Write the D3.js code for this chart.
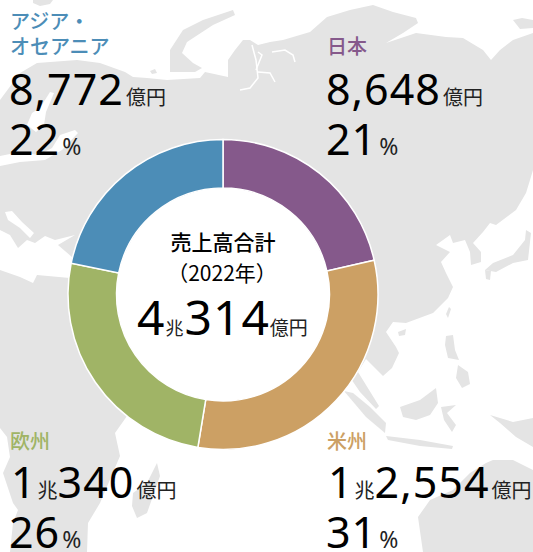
<!DOCTYPE html>
<html>
<head>
<meta charset="utf-8">
<script src="https://cdn.jsdelivr.net/npm/d3@7"></script>
<style>
    html, body { margin: 0; padding: 0; background: #fff; overflow: hidden; }
    svg { display: block; }
    text { font-family: "Noto Sans", "Noto Sans CJK JP", sans-serif; fill: #000; }
    .cjk { font-family: "Noto Sans CJK JP", sans-serif; }
    .name { font-family: "Noto Sans CJK JP", sans-serif; font-size: 20px; font-weight: 500; }
    .big { font-size: 43px; letter-spacing: 1px; }
    .unit { font-family: "Noto Sans CJK JP", sans-serif; font-size: 20px; fill: #222; }
    .pct { font-size: 23px; fill: #222; }
</style>
</head>
<body>
<div id="chart"></div>
<script>
    // values in 億円, clockwise from 12 o'clock
    var regions = ["日本", "米州", "欧州", "アジア・オセアニア"];
    var sales = [8648, 12554, 10340, 8772];
    var colors = ["#85598b", "#cca064", "#a0b466", "#4c8db7"];

    // background map outlines, in picture pixels
    var landMain = [[0,100],[20,73],[37,63],[77,60],[100,63],[125,72],[133,77],[147,78],[167,80],[200,78],[205,72],[228,77],
        [228,60],[235,50],[243,40],[250,40],[258,45],[270,42],[283,40],[310,32],[327,17],[350,10],[373,5],[393,12],[416,18],
        [418,23],[403,33],[386,43],[416,33],[446,37],[463,38],[483,50],[491,60],[500,50],[513,40],[533,33],[533,170],[530,180],
        [526,193],[516,210],[496,225],[490,223],[483,232],[473,243],[481,252],[481,262],[471,265],[470,252],[465,240],[453,243],
        [450,235],[436,245],[450,252],[441,262],[446,273],[453,287],[448,298],[433,313],[406,323],[393,322],[386,332],[396,347],
        [399,353],[392,368],[383,376],[366,359],[358,372],[366,385],[379,406],[376,409],[360,392],[345,370],[300,340],[200,400],
        [127,416],[115,433],[120,456],[100,503],[88,523],[87,552],[10,552],[13,523],[18,510],[13,503],[3,473],[10,457],[7,437],[0,428]];
    var landIslands = [
        [[33,0],[53,0],[50,4],[40,6],[33,3]],
        [[150,71],[155,69],[157,73],[152,74]],
        [[170,50],[183,30],[203,20],[233,10],[235,15],[213,25],[187,42],[182,53],[193,63],[202,68],[195,72],[170,72]],
        [[513,20],[522,18],[533,20],[533,28],[520,29]],
        [[157,463],[160,476],[147,513],[137,518],[132,506],[133,493],[147,483]],
        [[526,230],[531,233],[528,260],[513,263],[496,272],[485,270],[493,263],[513,255],[525,240]],
        [[485,270],[491,271],[490,280],[486,279]],
        [[398,332],[406,329],[405,335],[399,336]],
        [[449,307],[451,309],[448,318],[446,314]],
        [[446,336],[453,335],[455,350],[459,360],[448,358],[445,345]],
        [[458,365],[468,372],[470,384],[462,388],[456,378]],
        [[400,407],[420,400],[436,388],[438,403],[430,415],[416,420],[403,417]],
        [[441,407],[456,405],[447,413],[456,425],[452,432],[444,420]],
        [[344,391],[353,393],[370,407],[386,423],[385,433],[366,417]],
        [[386,436],[420,440],[453,446],[452,449],[420,446],[388,440]],
        [[490,415],[513,422],[533,418],[533,447],[516,437],[500,423]],
        [[486,463],[493,460],[513,460],[533,470],[533,552],[423,552],[418,517],[430,500],[453,490],[470,473]]
    ];
    var seaAreas = [
        [[5,212],[12,211],[22,222],[34,233],[30,238],[20,228],[8,220]],
        [[0,230],[10,235],[18,248],[27,240],[35,243],[45,236],[55,240],[75,235],[58,245],[72,257],[70,278],[37,275],[33,283],[20,277],[0,270]],
        [[27,125],[32,113],[40,108],[50,92],[54,93],[46,112],[44,125],[36,132]],
        [[0,156],[20,152],[38,155],[52,148],[60,135],[75,130],[78,133],[62,150],[45,160],[20,162],[0,166]]
    ];
    var seaLines = [
        [[240,90],[250,88],[258,78],[256,60],[252,45]],
        [[258,52],[262,55],[256,70]],
        [[258,72],[270,73],[275,82]],
        [[272,52],[285,50],[293,55],[295,62]]
    ];

    var width = 533, height = 552;
    var cx = 223, cy = 294.5, outerR = 155, innerR = 106.5;

    var svg = d3.select("#chart").append("svg")
        .attr("width", width)
        .attr("height", height);

    // map behind everything
    var line = d3.line();
    var map = svg.append("g");
    map.selectAll(".land")
        .data([landMain].concat(landIslands))
        .enter().append("path")
        .attr("class", "land")
        .attr("fill", "#e4e4e4")
        .attr("d", function (d) { return line(d) + "Z"; });
    map.selectAll(".sea")
        .data(seaAreas)
        .enter().append("path")
        .attr("class", "sea")
        .attr("fill", "#fff")
        .attr("d", function (d) { return line(d) + "Z"; });
    map.selectAll(".river")
        .data(seaLines)
        .enter().append("path")
        .attr("class", "river")
        .attr("fill", "none")
        .attr("stroke", "#fff")
        .attr("stroke-width", 1.5)
        .attr("d", line);

    // donut
    var pie = d3.pie().sort(null);
    var arc = d3.arc().innerRadius(innerR).outerRadius(outerR);

    svg.append("circle")
        .attr("cx", cx).attr("cy", cy).attr("r", innerR)
        .attr("fill", "#fff");

    svg.append("g")
        .attr("transform", "translate(" + cx + "," + cy + ")")
        .selectAll("path")
        .data(pie(sales))
        .enter().append("path")
        .attr("d", arc)
        .attr("fill", function (d, i) { return colors[i]; })
        .attr("stroke", "#fff")
        .attr("stroke-width", 1.5);

    // region text blocks
    function valueLine(x, y, parts) {
        var t = svg.append("text").attr("x", x).attr("y", y);
        parts.forEach(function (p) {
            t.append("tspan")
                .attr("class", p[1] || "big")
                .attr("dx", p[2] || 0)
                .text(p[0]);
        });
        return t;
    }
    function nameLine(x, y, label, color) {
        svg.append("text").attr("class", "name")
            .attr("x", x).attr("y", y)
            .style("fill", color)
            .text(label);
    }

    nameLine(10, 29, "アジア・", colors[3]);
    nameLine(10, 54, "オセアニア", colors[3]);
    valueLine(9, 105, [["8,772"], ["億円", "unit", 2]]);
    valueLine(9, 155, [["22"], ["%", "pct", 2]]);

    nameLine(327, 54, regions[0], colors[0]);
    valueLine(326, 105, [["8,648"], ["億円", "unit", 2]]);
    valueLine(326, 155, [["21"], ["%", "pct", 2]]);

    nameLine(10, 449, regions[2], colors[2]);
    valueLine(11, 498, [["1"], ["兆", "unit", 1], ["340"], ["億円", "unit", 2]]);
    valueLine(9, 548, [["26"], ["%", "pct", 2]]);

    nameLine(327, 449, regions[1], colors[1]);
    valueLine(328, 498, [["1"], ["兆", "unit", 1], ["2,554"], ["億円", "unit", 2]]);
    valueLine(326, 548, [["31"], ["%", "pct", 2]]);

    // centre
    svg.append("text").attr("class", "cjk")
        .attr("x", cx).attr("y", 250)
        .attr("text-anchor", "middle")
        .style("font-size", "21px").style("font-weight", 500)
        .text("売上高合計");
    svg.append("text").attr("class", "cjk")
        .attr("x", cx - 1).attr("y", 281)
        .attr("text-anchor", "middle")
        .style("font-size", "21px")
        .text("（2022年）");
    var total = svg.append("text").attr("x", 137).attr("y", 335);
    total.append("tspan").style("font-size", "48px").style("letter-spacing", "1px").text("4");
    total.append("tspan").attr("class", "unit").style("font-size", "18px").text("兆");
    total.append("tspan").style("font-size", "48px").style("letter-spacing", "1px").attr("dx", 1).text("314");
    total.append("tspan").attr("class", "unit").style("font-size", "19px").text("億円");
</script>
</body>
</html>
